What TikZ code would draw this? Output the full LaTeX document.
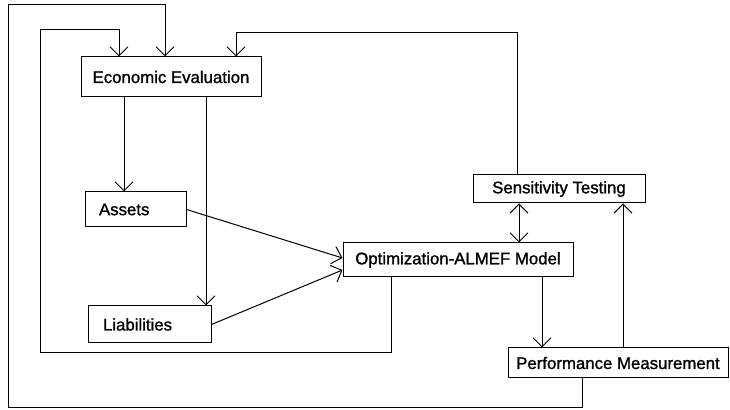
\documentclass[tikz,border=0pt]{standalone}
\usepackage{fontspec}
\setmainfont{Liberation Sans}
\newfontfamily\scanfont[FakeBold=1.2]{Liberation Sans}
\usetikzlibrary{arrows.meta,calc}
\tikzset{>={Straight Barb[length=4.5pt,width=9pt]},
  box/.style={draw,line width=0.5pt,inner sep=0pt,font=\scanfont\fontsize{8.4}{10}\selectfont},
  flow/.style={->,line width=0.5pt}}

\begin{document}
\begin{tikzpicture}[x=0.5pt,y=-0.5pt]
    \useasboundingbox (0,0) rectangle (730,410);
    \node[box,minimum width=90pt,minimum height=20pt] (eval) at (171,77) {Economic Evaluation};
    \node[box,minimum height=17.5pt,inner xsep=7pt,text width=36.5pt,align=left] (assets) at (135.5,209.5) {Assets};
    \node[box,minimum height=18.5pt,inner xsep=7.5pt,text width=46.5pt,align=left] (liab) at (149.5,324.5) {Liabilities};
    \node[box,minimum width=115pt,minimum height=17pt] (opt) at (458,260) {Optimization-ALMEF Model};
    \node[box,minimum width=86pt,minimum height=14pt] (sens) at (559,189) {Sensitivity Testing};
    \node[box,minimum width=110pt,minimum height=15pt] (perf) at (618,363) {Performance Measurement};
    \draw[flow] ($(eval.south)+(-47,0)$) -- ($(assets.north)+(-11.5,0)$);
    \draw[flow] ($(eval.south)+(35,0)$) -- ($(liab.north)+(56.5,0)$);
    \draw[flow] (assets.east) -- ($(opt.west)+(0,-2)$);
    \draw[flow] (liab.east) -- ($(opt.west)+(0,10)$);
    \draw[flow,<->] ($(sens.south)+(-40,0)$) -- ($(opt.north)+(61,0)$);
    \draw[flow] ($(opt.south)+(84,0)$) -- ($(perf.north)+(-76,0)$);
    \draw[flow] ($(perf.north)+(5,0)$) -- ($(sens.south)+(64,0)$);
    \draw[flow] ($(sens.north)+(-42,0)$) |- ($(eval.north)+(65,-24)$) -- ($(eval.north)+(65,0)$);
    \draw[flow] ($(opt.south)+(-67,0)$) |- (40,353) |- ($(eval.north)+(-52,-27)$) -- ($(eval.north)+(-52,0)$);
    \draw[flow] ($(perf.south)+(-36,0)$) |- (8,408) |- ($(eval.north)+(-6,-52)$) -- ($(eval.north)+(-6,0)$);
  \end{tikzpicture}
\end{document}
